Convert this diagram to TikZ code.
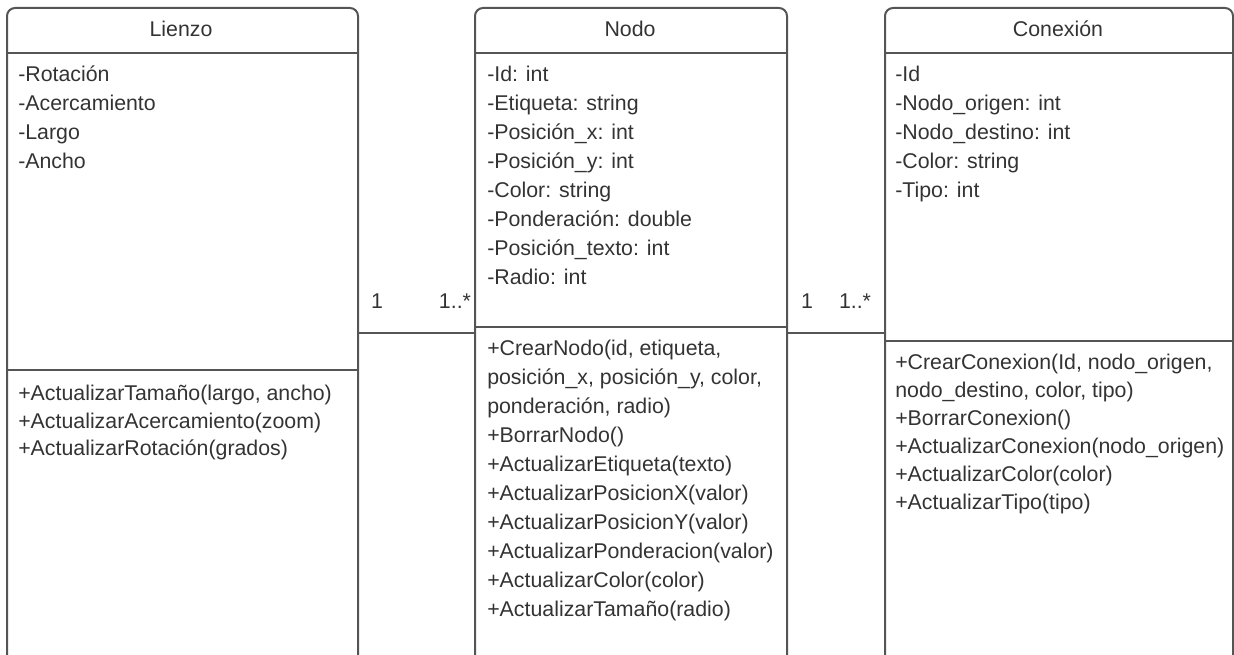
\documentclass[tikz,border=0pt]{standalone}
\usepackage{fontspec}
\setmainfont{Liberation Sans}
\usetikzlibrary{positioning}
\definecolor{linegray}{HTML}{555555}
\definecolor{textgray}{HTML}{333333}
\tikzset{
  classbox/.style={draw=linegray,line width=1.5pt,rounded corners=6pt,anchor=north west,inner sep=0pt},
  classline/.style={draw=linegray,line width=1.5pt},
  headtext/.style={text=textgray,inner sep=0pt,font=\fontsize{16pt}{21.75pt}\selectfont},
  membertext/.style={text=textgray,inner sep=0pt,anchor=north west,align=left,font=\fontsize{16pt}{21.75pt}\selectfont},
  multtext/.style={text=textgray,inner sep=0pt,font=\fontsize{16pt}{20pt}\selectfont}
}
\begin{document}
\begin{tikzpicture}[x=0.75pt,y=-0.75pt]
\useasboundingbox (0,0) rectangle (1234,655);
\clip (0,0) rectangle (1234,655);
% class boxes
\node[classbox,minimum width=263.25pt,minimum height=525pt] (lienzo) at (6,7) {};
\node[classbox,minimum width=234pt,minimum height=525pt] (nodo) at (474,7) {};
\node[classbox,minimum width=261pt,minimum height=525pt] (conexion) at (884,7) {};
% compartments
\draw[classline] (lienzo.west |- 0,53) -- (lienzo.east |- 0,53);
\draw[classline] (lienzo.west |- 0,370) -- (lienzo.east |- 0,370);
\draw[classline] (nodo.west |- 0,53) -- (nodo.east |- 0,53);
\draw[classline] (nodo.west |- 0,327) -- (nodo.east |- 0,327);
\draw[classline] (conexion.west |- 0,53) -- (conexion.east |- 0,53);
\draw[classline] (conexion.west |- 0,341) -- (conexion.east |- 0,341);
% names
\node[headtext] (lienzoName) at (181,29) {Lienzo};
\node[headtext] (nodoName) at (630,29) {Nodo};
\node[headtext] (conexionName) at (1058,29) {Conexión};
% attributes
\node[membertext] (lienzoAttr) at (18,66) {-Rotación\\-Acercamiento\\-Largo\\-Ancho};
\node[membertext] (nodoAttr) at (487,66) {-Id: int\\-Etiqueta: string\\-Posición\_x: int\\-Posición\_y: int\\-Color: string\\-Ponderación: double\\-Posición\_texto: int\\-Radio: int};
\node[membertext] (conexionAttr) at (895,66) {-Id\\-Nodo\_origen: int\\-Nodo\_destino: int\\-Color: string\\-Tipo: int};
% operations
\node[membertext,font=\fontsize{16pt}{20.6pt}\selectfont] (lienzoOps) at (18,385) {+ActualizarTamaño(largo, ancho)\\+ActualizarAcercamiento(zoom)\\+ActualizarRotación(grados)};
\node[membertext] (nodoOps) at (487,340) {+CrearNodo(id, etiqueta,\\posición\_x, posición\_y, color,\\ponderación, radio)\\+BorrarNodo()\\+ActualizarEtiqueta(texto)\\+ActualizarPosicionX(valor)\\+ActualizarPosicionY(valor)\\+ActualizarPonderacion(valor)\\+ActualizarColor(color)\\+ActualizarTamaño(radio)};
\node[membertext,font=\fontsize{16pt}{21pt}\selectfont] (conexionOps) at (895,354) {+CrearConexion(Id, nodo\_origen,\\nodo\_destino, color, tipo)\\+BorrarConexion()\\+ActualizarConexion(nodo\_origen)\\+ActualizarColor(color)\\+ActualizarTipo(tipo)};
% associations
\draw[classline] (lienzo.east |- 0,333) -- (nodo.west |- 0,333);
\draw[classline] (nodo.east |- 0,333) -- (conexion.west |- 0,333);
\node[multtext] (lienzoMult) at (377,301) {1};
\node[multtext] (nodoMultA) at (455,301) {1..*};
\node[multtext] (nodoMultB) at (807,301) {1};
\node[multtext] (conexionMult) at (855,301) {1..*};
\end{tikzpicture}
\end{document}
